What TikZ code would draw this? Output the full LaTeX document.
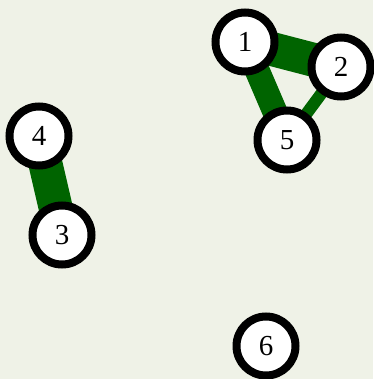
\documentclass[tikz,border=0pt]{standalone}
\usepackage{fontspec}
\setmainfont{Liberation Serif}
\usetikzlibrary{backgrounds}
\definecolor{bgc}{HTML}{EFF2E7}
\definecolor{edgec}{HTML}{006400}
\tikzset{
  vert/.style={circle, draw=black, line width=8pt, fill=white, minimum size=59pt, inner sep=0pt, font=\fontsize{29}{29}\selectfont},
  wedge/.style={draw=edgec, line cap=butt}
}
\begin{document}
\begin{tikzpicture}[x=1pt,y=-1pt]
\useasboundingbox (0,0) rectangle (373,379);
\node[vert] (n1) at (245,42) {1};
\node[vert] (n2) at (341,67) {2};
\node[vert] (n5) at (287,140) {5};
\node[vert] (n4) at (39,136) {4};
\node[vert] (n3) at (62,235) {3};
\node[vert] (n6) at (266,346) {6};
\begin{scope}[on background layer]
\fill[bgc] (0,0) rectangle (373,379);
\draw[wedge, line width=34pt] (n1.center) -- (n2.center);
\draw[wedge, line width=25pt] (n1.center) -- (n5.center);
\draw[wedge, line width=12pt] (n2.center) -- (n5.center);
\draw[wedge, line width=34pt] (n4.center) -- (n3.center);
\end{scope}
\end{tikzpicture}
\end{document}
